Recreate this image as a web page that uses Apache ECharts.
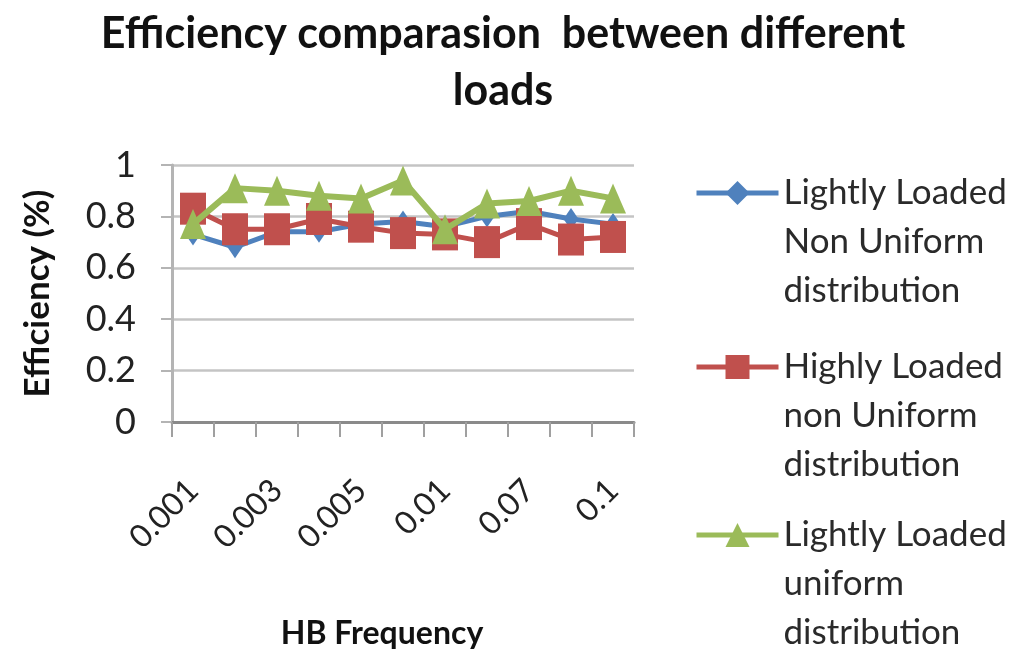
<!DOCTYPE html>
<html>
<head>
<meta charset="utf-8">
<script src="https://cdn.jsdelivr.net/npm/echarts@6/dist/echarts.min.js"></script>
<style>
  html, body { margin: 0; padding: 0; background: #fff; }
  #chart { width: 1014px; height: 651px; }
</style>
</head>
<body>
<div id="chart"></div>
<script>
// HB frequencies (odd ones are not labelled in the picture)
var categories = ['0.001', '0.002', '0.003', '0.004', '0.005', '0.007', '0.01', '0.05', '0.07', '0.09', '0.1'];
var yTicks = [0, 0.2, 0.4, 0.6, 0.8, 1];

var lightNonUniform = [0.73, 0.68, 0.74, 0.74, 0.77, 0.78, 0.76, 0.80, 0.82, 0.79, 0.77];
var heavyNonUniform = [0.83, 0.75, 0.75, 0.79, 0.76, 0.735, 0.73, 0.70, 0.77, 0.71, 0.72];
var lightUniform    = [0.77, 0.91, 0.90, 0.88, 0.87, 0.94, 0.75, 0.85, 0.86, 0.90, 0.87];

var names = [
  'Lightly Loaded\nNon Uniform\ndistribution',
  'Highly Loaded\nnon Uniform\ndistribution',
  'Lightly Loaded\nuniform\ndistribution'
];

var FONT = 'Lato';
var LH = 49;

var dom = document.getElementById('chart');
var myChart = echarts.init(dom);

// one legend per series so that the icon sits on the first text line
function legendAt(name, iconY) {
  return {
    data: [name],
    orient: 'vertical',
    left: 694,
    top: iconY - 2.5 * LH,
    padding: 0,
    itemWidth: 82,
    itemHeight: 30,
    selectedMode: false,
    lineStyle: { width: 5 },
    formatter: function (n) { return '\n\n' + n; },
    textStyle: {
      fontFamily: FONT,
      fontSize: 35,
      color: '#2a2a2a',
      lineHeight: LH
    }
  };
}

var option = {
  animation: false,
  color: ['#4f81bd', '#c0504d', '#9bbb59'],
  title: {
    text: 'Efficiency comparasion  between different\nloads',
    left: 503,
    top: 6,
    padding: 0,
    textAlign: 'center',
    textStyle: {
      fontFamily: FONT,
      fontSize: 43,
      fontWeight: 'bold',
      color: '#111',
      lineHeight: 57
    }
  },
  legend: [
    legendAt(names[0], 193),
    legendAt(names[1], 367),
    legendAt(names[2], 535)
  ],
  grid: {
    left: 172,
    right: 380,
    top: 165,
    bottom: 214
  },
  xAxis: {
    type: 'category',
    data: categories,
    boundaryGap: true,
    name: 'HB Frequency',
    nameLocation: 'middle',
    nameGap: 196,
    nameTextStyle: {
      fontFamily: FONT,
      fontSize: 32,
      fontWeight: 'bold',
      color: '#111',
      padding: [0, 42, 0, 0]
    },
    axisLine: { lineStyle: { color: '#8a8a8a', width: 3 } },
    axisTick: { show: true, length: 15, interval: 0, lineStyle: { color: '#a0a0a0', width: 2 } },
    axisLabel: {
      interval: 1,
      rotate: 45,
      margin: 63,
      fontFamily: FONT,
      fontSize: 32,
      color: '#222'
    },
    splitLine: { show: false }
  },
  yAxis: {
    type: 'value',
    min: yTicks[0],
    max: yTicks[yTicks.length - 1],
    interval: 0.2,
    name: 'Efficiency (%)',
    nameLocation: 'middle',
    nameGap: 117,
    nameTextStyle: {
      fontFamily: FONT,
      fontSize: 35,
      fontWeight: 'bold',
      color: '#111'
    },
    axisLine: { show: true, lineStyle: { color: '#b4b4b4', width: 3 } },
    axisTick: { show: true, length: 11, lineStyle: { color: '#b4b4b4', width: 2 } },
    axisLabel: {
      margin: 36,
      fontFamily: FONT,
      fontSize: 36,
      color: '#222'
    },
    splitLine: { lineStyle: { color: '#c4c4c4', width: 2.5 } }
  },
  series: [
    {
      name: names[0],
      type: 'line',
      data: lightNonUniform,
      symbol: 'diamond',
      symbolSize: [15, 22],
      showAllSymbol: true,
      lineStyle: { width: 5 },
      z: 2
    },
    {
      name: names[1],
      type: 'line',
      data: heavyNonUniform,
      symbol: 'rect',
      symbolSize: [26, 32],
      showAllSymbol: true,
      lineStyle: { width: 5 },
      z: 3
    },
    {
      name: names[2],
      type: 'line',
      data: lightUniform,
      symbol: 'triangle',
      symbolSize: [26, 30],
      showAllSymbol: true,
      lineStyle: { width: 6 },
      z: 4
    }
  ]
};

if (option && typeof option === 'object') {
  myChart.setOption(option, false);
}
</script>
</body>
</html>
